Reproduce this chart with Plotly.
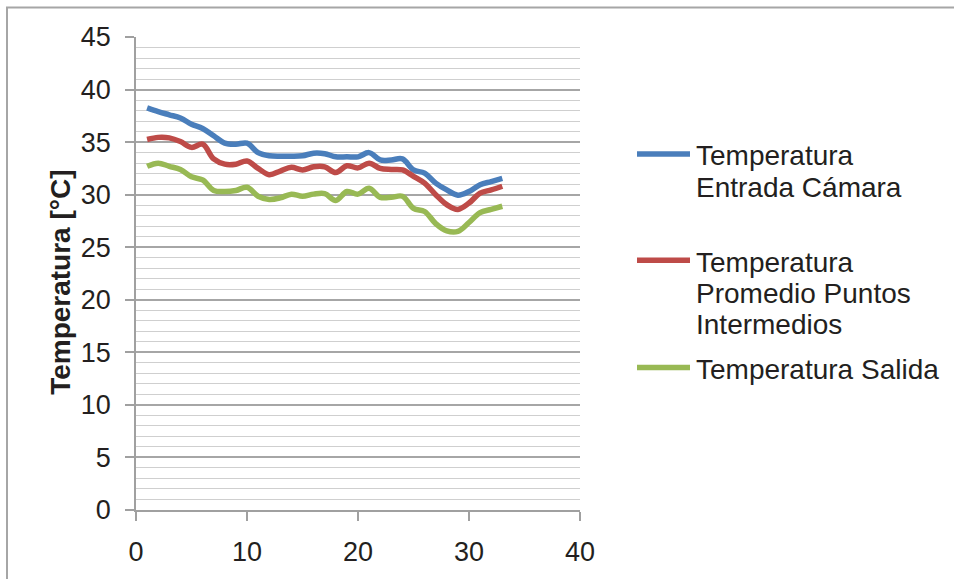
import plotly.graph_objects as go

# Measurement index (x) and the three temperature series in °C
x_vals = list(range(1, 34))

temp_entrada = [38.25, 37.9, 37.6, 37.3, 36.7, 36.3, 35.6, 34.9, 34.8, 34.9,
                34.0, 33.7, 33.65, 33.65, 33.7, 33.95, 33.9, 33.6, 33.6, 33.6,
                34.0, 33.3, 33.3, 33.4, 32.35, 32.05, 31.1, 30.45, 29.95, 30.3,
                30.95, 31.25, 31.55]

temp_intermedios = [35.25, 35.45, 35.4, 35.05, 34.5, 34.8, 33.4, 32.9, 32.9, 33.2,
                    32.5, 31.9, 32.25, 32.6, 32.35, 32.65, 32.65, 32.1, 32.75, 32.55,
                    33.0, 32.5, 32.4, 32.35, 31.75, 31.1, 30.0, 29.05, 28.6, 29.2,
                    30.15, 30.45, 30.8]

temp_salida = [32.7, 33.0, 32.7, 32.4, 31.7, 31.4, 30.4, 30.3, 30.4, 30.7,
               29.85, 29.55, 29.7, 30.05, 29.85, 30.05, 30.1, 29.45, 30.3, 30.05,
               30.6, 29.75, 29.75, 29.85, 28.7, 28.4, 27.25, 26.55, 26.5, 27.35,
               28.3, 28.6, 28.9]

series_names = [
    ["Temperatura", "Entrada Cámara"],
    ["Temperatura", "Promedio Puntos", "Intermedios"],
    ["Temperatura Salida"],
]
series_values = [temp_entrada, temp_intermedios, temp_salida]
series_colors = ["#4A7EBB", "#BE4B48", "#98B954"]

y_ticks = list(range(0, 50, 5))
x_ticks = list(range(0, 50, 10))

FONT = "Liberation Sans, Arial, sans-serif"
TEXT = "#231F20"

W, H = 954, 579
L, R, T, B = 136, 580, 37, 518   # plot area in pixels


def px_x(p):
    return (p - L) / (R - L)


def px_y(p):
    return (B - p) / (B - T)


fig = go.Figure()
for vals, color, name in zip(series_values, series_colors, series_names):
    fig.add_trace(go.Scatter(
        x=x_vals, y=vals, mode="lines",
        line=dict(color=color, width=5.5, shape="spline", smoothing=1.0),
        name=" ".join(name), showlegend=False, hoverinfo="x+y",
    ))

# Legend drawn as line samples plus one text line each
legend_rows = [[156, 188], [264, 296, 327], [373]]
for rows, color, name in zip(legend_rows, series_colors, series_names):
    fig.add_shape(type="line", xref="paper", yref="paper",
                  x0=px_x(637), x1=px_x(690), y0=px_y(rows[0]), y1=px_y(rows[0]),
                  line=dict(color=color, width=5.5))
    for yy, line_txt in zip(rows, name):
        fig.add_annotation(x=px_x(694), y=px_y(yy + 2), xref="paper", yref="paper",
                           text=line_txt, showarrow=False, xanchor="left",
                           yanchor="middle",
                           font=dict(family=FONT, size=28, color=TEXT))

# Y axis title
fig.add_annotation(x=px_x(61), y=px_y(287), xref="paper", yref="paper",
                   text="<b>Temperatura [°C]</b>", textangle=-90, showarrow=False,
                   xanchor="center", yanchor="middle",
                   font=dict(family=FONT, size=28, color=TEXT))

# Outer chart border
fig.add_shape(type="rect", xref="paper", yref="paper",
              x0=px_x(7), x1=px_x(1000), y0=px_y(7), y1=px_y(640),
              line=dict(color="#A6A6A6", width=2), layer="below")

fig.update_layout(
    width=W, height=H,
    margin=dict(l=L, r=W - R, t=T, b=H - B, pad=0),
    paper_bgcolor="white", plot_bgcolor="white",
    font=dict(family=FONT, color=TEXT),
    showlegend=False,
    xaxis=dict(
        range=[0, 40], tickvals=x_ticks, showgrid=False, zeroline=False,
        showline=True, linecolor="#A0A0A0", linewidth=1.5,
        ticks="outside", ticklen=9, tickwidth=1.5, tickcolor="#A0A0A0",
        tickfont=dict(family=FONT, size=27, color=TEXT),
        ticklabelstandoff=8,
    ),
    yaxis=dict(
        range=[0, 45], tickvals=y_ticks, zeroline=False,
        showgrid=True, gridcolor="#A6A6A6", gridwidth=1.5,
        showline=True, linecolor="#A0A0A0", linewidth=1.5,
        ticks="outside", ticklen=9, tickwidth=1.5, tickcolor="#A0A0A0",
        tickfont=dict(family=FONT, size=27, color=TEXT),
        ticklabelstandoff=9,
        minor=dict(dtick=1, showgrid=True, gridcolor="#CFCFCF", gridwidth=1.2,
                   ticks=""),
    ),
)

fig.write_html("out.html")
